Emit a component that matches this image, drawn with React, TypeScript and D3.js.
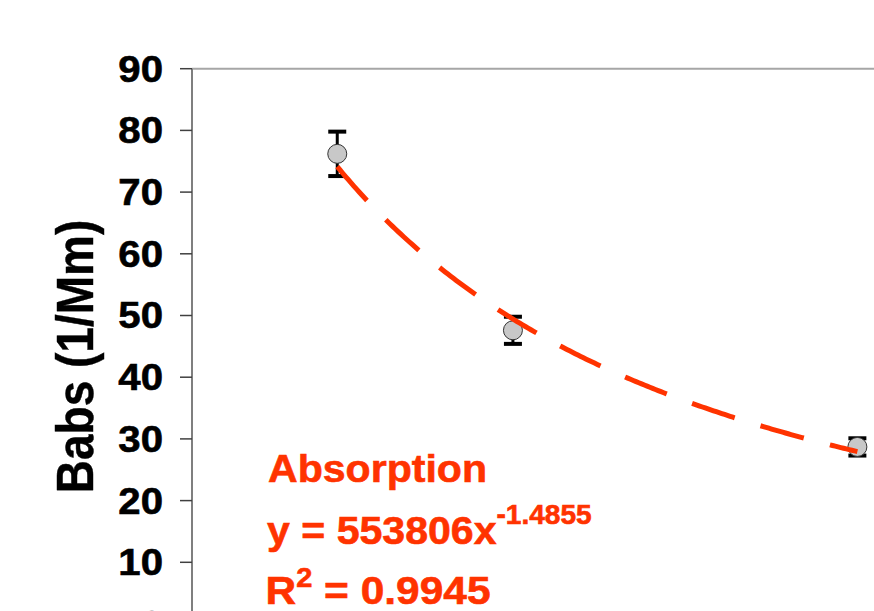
import React from "react";
import * as d3 from "d3";

const wavelengths = [405, 532, 781];
const babs = [76.2, 47.6, 28.7];
const babsErr = [3.6, 2.2, 1.4];
const yTicks = [0, 10, 20, 30, 40, 50, 60, 70, 80, 90];
const fitA = 553806;
const fitB = -1.4855;
const labelLines = ["Absorption", "y = 553806x", "-1.4855", "R", "2", " = 0.9945"];

const W = 874;
const H = 611;
const FONT = "'Liberation Sans', Arial, Helvetica, sans-serif";
const RED = "#FF3300";

export default function App() {
  const x = d3.scaleLinear().domain([300, 900]).range([192, 1022]);
  const y = d3.scaleLinear().domain([0, 90]).range([624, 68.7]);

  const xs = d3.range(wavelengths[0], wavelengths[wavelengths.length - 1] + 0.5, 2);
  const fitPts: [number, number][] = xs.map((w) => [w, fitA * Math.pow(w, fitB)]);
  const line = d3
    .line<[number, number]>()
    .x((d) => x(d[0]))
    .y((d) => y(d[1]));

  const tickSx = 1.1;
  const tickFs = 36.5;
  const lblSx = 1.04;
  const lblFs = 39.5;

  return (
    <div style={{ position: "absolute", left: 0, top: 0 }}>
      <svg width={W} height={H} style={{ display: "block", background: "#fff" }}>
        <rect x={0} y={0} width={W} height={H} fill="#fff" />
        <line x1={192} x2={1022} y1={y(90)} y2={y(90)} stroke="#A6A6A6" strokeWidth={2} />
        <line x1={192} x2={192} y1={y(90)} y2={y(0)} stroke="#7F7F7F" strokeWidth={2} />
        {yTicks.map((t) => (
          <g key={t}>
            <line x1={180} x2={192} y1={y(t)} y2={y(t)} stroke="#404040" strokeWidth={1.5} />
            <text
              transform={`translate(163,${y(t) + 0.355 * tickFs}) scale(${tickSx},1)`}
              textAnchor="end"
              fontFamily={FONT}
              fontWeight="bold"
              fontSize={tickFs}
              fill="#000"
              stroke="#000"
              strokeWidth={0.6}
            >
              {t}
            </text>
          </g>
        ))}
        <text
          transform={`translate(93,356.5) scale(1.11,1) rotate(-90)`}
          textAnchor="middle"
          fontFamily={FONT}
          fontWeight="bold"
          fontSize={46}
          fill="#000"
          stroke="#000"
          strokeWidth={0.4}
        >
          Babs (1/Mm)
        </text>
        {wavelengths.map((w, i) => {
          const cx = x(w);
          const top = y(babs[i] + babsErr[i]);
          const bot = y(babs[i] - babsErr[i]);
          return (
            <g key={"e" + i} stroke="#000">
              <line x1={cx} x2={cx} y1={top} y2={bot} strokeWidth={3} />
              <line x1={cx - 9} x2={cx + 9} y1={top} y2={top} strokeWidth={4} />
              <line x1={cx - 9} x2={cx + 9} y1={bot} y2={bot} strokeWidth={4} />
            </g>
          );
        })}
        {wavelengths.map((w, i) => (
          <circle key={"c" + i} cx={x(w)} cy={y(babs[i])} r={9.5} fill="#C8C8C8" stroke="#333" strokeWidth={1} />
        ))}
        <path
          d={line(fitPts) || ""}
          fill="none"
          stroke={RED}
          strokeWidth={5}
          strokeDasharray="45,27"
        />
        <g fontFamily={FONT} fontWeight="bold" fill={RED} stroke={RED} strokeWidth={0.6}>
          <text transform={`translate(268,482.3) scale(${lblSx},1)`} fontSize={lblFs}>
            {labelLines[0]}
          </text>
          <text transform={`translate(267,544) scale(${lblSx},1)`} fontSize={lblFs}>
            {labelLines[1]}
            <tspan fontSize={27} dy={-20}>{labelLines[2]}</tspan>
          </text>
          <text transform={`translate(265.5,604.3) scale(1.075,1)`} fontSize={lblFs}>
            {labelLines[3]}
            <tspan fontSize={27} dy={-17}>{labelLines[4]}</tspan>
            <tspan dy={17}>{labelLines[5]}</tspan>
          </text>
        </g>
      </svg>
    </div>
  );
}
